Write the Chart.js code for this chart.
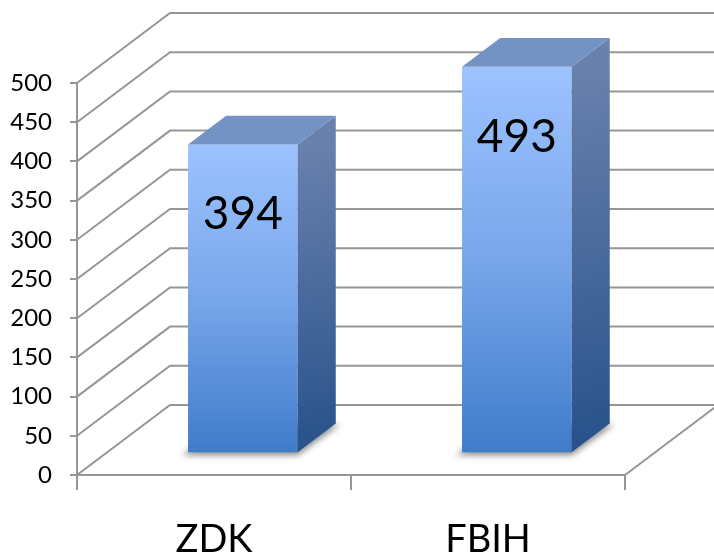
<!DOCTYPE html>
<html>
<head>
<meta charset="utf-8">
<script src="https://cdn.jsdelivr.net/npm/chart.js@4"></script>
<style>
  html, body { margin: 0; padding: 0; background: #fff; }
  #wrap { width: 714px; height: 556px; }
</style>
</head>
<body>
<div id="wrap"><canvas id="myChart" width="714" height="556"></canvas></div>
<script>
let categorias = ['ZDK', 'FBIH'];
let valores = [394, 493];
let yMin = 0;
let yMax = 500;
let yPasso = 50;

// profundidade do "3D"
const WALL_DX = 93, WALL_DY = 70;
const BAR_FRONT = 0.31, BAR_DEPTH = 0.41;
const GRID = '#969696';

let plugin3d = {
    id: 'plugin3d',
    beforeDatasetsDraw(chart) {
        let ctx = chart.ctx;
        let y = chart.scales.y;
        let a = chart.chartArea;
        ctx.save();
        ctx.strokeStyle = GRID;
        ctx.lineWidth = 2;
        y.ticks.forEach(t => {
            let py = y.getPixelForValue(t.value);
            ctx.beginPath();
            ctx.moveTo(a.left, py);
            ctx.lineTo(a.left + WALL_DX, py - WALL_DY);
            ctx.lineTo(a.right + WALL_DX + 10, py - WALL_DY);
            ctx.stroke();
        });
        // borda direita do chão
        ctx.beginPath();
        ctx.moveTo(a.right, a.bottom);
        ctx.lineTo(a.right + WALL_DX, a.bottom - WALL_DY);
        ctx.stroke();
        ctx.restore();
    },
    afterDatasetsDraw(chart) {
        let ctx = chart.ctx;
        let meta = chart.getDatasetMeta(0);
        let ox = WALL_DX * BAR_FRONT, oy = WALL_DY * BAR_FRONT;
        let dx = WALL_DX * BAR_DEPTH, dy = WALL_DY * BAR_DEPTH;
        meta.data.forEach((bar, i) => {
            let p = bar.getProps(['x', 'y', 'base', 'width'], true);
            let l = p.x - p.width / 2 + ox;
            let r = p.x + p.width / 2 + ox;
            let t = p.y - oy;
            let b = p.base - oy;
            ctx.save();
            // sombra
            ctx.filter = 'blur(3px)';
            ctx.fillStyle = 'rgba(0,0,0,0.45)';
            ctx.beginPath();
            ctx.moveTo(l - 6, b + 3);
            ctx.lineTo(r, b + 3);
            ctx.lineTo(r + dx + 4, b - dy + 1);
            ctx.lineTo(l + dx, b - dy);
            ctx.closePath();
            ctx.fill();
            ctx.filter = 'none';
            // frente
            let gf = ctx.createLinearGradient(0, t, 0, b);
            gf.addColorStop(0, '#9dc3ff');
            gf.addColorStop(0.5, '#78a6ea');
            gf.addColorStop(1, '#3f7cca');
            ctx.fillStyle = gf;
            ctx.fillRect(l, t, r - l, b - t);
            // lado
            let gs = ctx.createLinearGradient(r, t, r + dx, b);
            gs.addColorStop(0, '#6981ad');
            gs.addColorStop(1, '#27518a');
            ctx.fillStyle = gs;
            ctx.beginPath();
            ctx.moveTo(r, t);
            ctx.lineTo(r + dx, t - dy);
            ctx.lineTo(r + dx, b - dy);
            ctx.lineTo(r, b);
            ctx.closePath();
            ctx.fill();
            // topo
            ctx.fillStyle = '#7393c4';
            ctx.beginPath();
            ctx.moveTo(l, t);
            ctx.lineTo(l + dx, t - dy);
            ctx.lineTo(r + dx, t - dy);
            ctx.lineTo(r, t);
            ctx.closePath();
            ctx.fill();
            // rótulo
            ctx.fillStyle = '#000';
            ctx.font = '46px Lato';
            ctx.textAlign = 'center';
            ctx.textBaseline = 'middle';
            ctx.fillText(String(valores[i]), (l + r) / 2, t + 70);
            ctx.restore();
        });
    }
};

let ctx = document.getElementById('myChart').getContext('2d');
let myChart = new Chart(ctx, {
    type: 'bar',
    data: {
        labels: categorias,
        datasets: [{
            data: valores,
            backgroundColor: 'rgba(0,0,0,0)',
            borderWidth: 0,
            barPercentage: 0.4,
            categoryPercentage: 1
        }]
    },
    options: {
        responsive: false,
        animation: false,
        layout: { padding: { top: 83, right: 89, left: 0, bottom: 0 } },
        plugins: { legend: { display: false }, tooltip: { enabled: false } },
        scales: {
            x: {
                grid: { drawOnChartArea: false, tickLength: 15, color: GRID, lineWidth: 2, offset: true },
                border: { color: GRID, width: 2 },
                ticks: { color: '#000', font: { family: 'Lato', size: 38 }, padding: 27 },
                afterFit: s => { s.height = 81; }
            },
            y: {
                min: yMin,
                max: yMax,
                grid: { drawOnChartArea: false, tickLength: 7, color: GRID, lineWidth: 2 },
                border: { color: GRID, width: 2 },
                ticks: { stepSize: yPasso, color: '#000', font: { family: 'Lato', size: 24 }, padding: 18 },
                afterFit: s => { s.width = 77; }
            }
        }
    },
    plugins: [plugin3d]
});
</script>
</body>
</html>
